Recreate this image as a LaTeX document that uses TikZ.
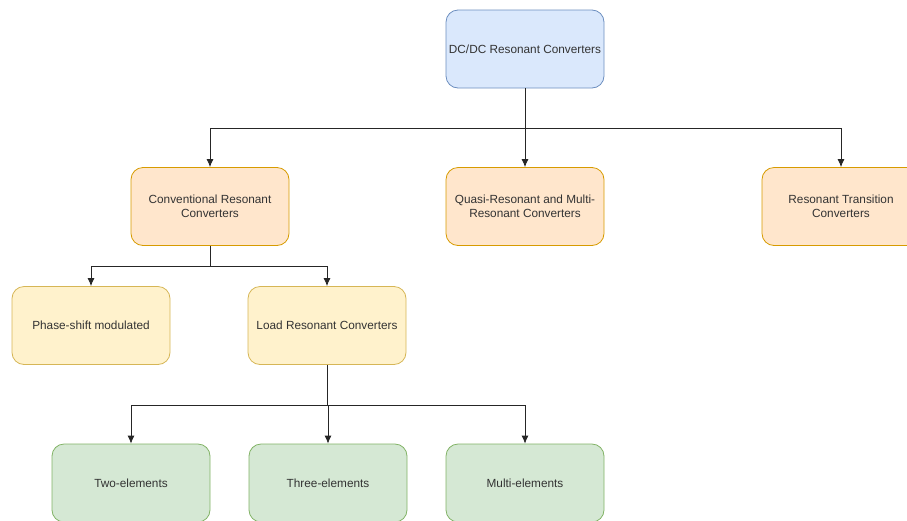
\documentclass[tikz,border=0pt]{standalone}
\usepackage{fontspec}
\setmainfont{Liberation Sans}
\usetikzlibrary{arrows.meta}
\definecolor{bfill}{HTML}{DAE8FC}\definecolor{bdraw}{HTML}{6C8EBF}
\definecolor{ofill}{HTML}{FFE6CC}\definecolor{odraw}{HTML}{D79B00}
\definecolor{yfill}{HTML}{FFF2CC}\definecolor{ydraw}{HTML}{D6B656}
\definecolor{gfill}{HTML}{D5E8D4}\definecolor{gdraw}{HTML}{82B366}
\definecolor{txt}{HTML}{333333}
\tikzset{
  box/.style={rounded corners=12pt, minimum width=158pt, minimum height=78pt,
    line width=0.8pt, align=center, inner sep=2pt, text=txt,
    font=\fontsize{11.8}{14}\selectfont},
  bluebox/.style={box, fill=bfill, draw=bdraw},
  orangebox/.style={box, fill=ofill, draw=odraw},
  yellowbox/.style={box, fill=yfill, draw=ydraw},
  greenbox/.style={box, fill=gfill, draw=gdraw},
  conn/.style={line width=0.8pt, draw=black!85, -{Latex[length=8pt,width=7pt]}},
  link/.style={line width=0.8pt, draw=black!85}
}
\begin{document}
\begin{tikzpicture}[x=1pt,y=-1pt]
\useasboundingbox (0,0) rectangle (907,520);
\clip (0,0) rectangle (907,520);
\node[bluebox] (top) at (525,49) {DC/DC Resonant Converters};
\node[orangebox] (conv) at (210,206.5) {Conventional Resonant\\Converters};
\node[orangebox] (quasi) at (525,206.5) {Quasi-Resonant and Multi-\\Resonant Converters};
\node[orangebox] (trans) at (841,206.5) {Resonant Transition\\Converters};
\node[yellowbox] (phase) at (91,325.5) {Phase-shift modulated};
\node[yellowbox] (load) at (327,325.5) {Load Resonant Converters};
\node[greenbox] (two) at (131,483) {Two-elements};
\node[greenbox] (three) at (328,483) {Three-elements};
\node[greenbox] (multi) at (525,483) {Multi-elements};
\coordinate (j1) at (525,128);
\coordinate (j2) at (210,266);
\coordinate (j3) at (327,405);
\draw[link] (top.south) -- (j1);
\draw[conn] (j1) -| (conv.north);
\draw[conn] (j1) -- (quasi.north);
\draw[conn] (j1) -| (trans.north);
\draw[link] (conv.south) -- (j2);
\draw[conn] (j2) -| (phase.north);
\draw[conn] (j2) -| (load.north);
\draw[link] (load.south) -- (j3);
\draw[conn] (j3) -| (two.north);
\draw[conn] (j3) -| (three.north);
\draw[conn] (j3) -| (multi.north);
\end{tikzpicture}
\end{document}
